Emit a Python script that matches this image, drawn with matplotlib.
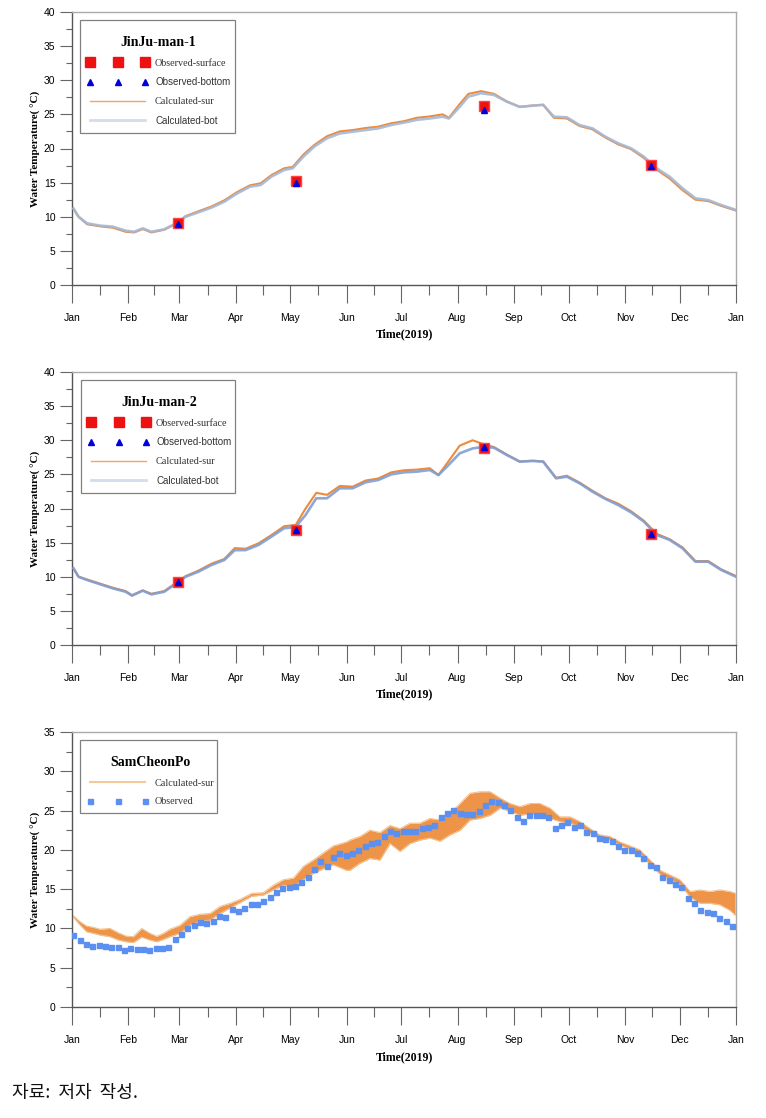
import matplotlib
matplotlib.use("Agg")
import matplotlib.pyplot as plt
import numpy as np
from matplotlib.lines import Line2D
from matplotlib.patches import Rectangle

# month boundaries (day of year) and labels
month_days = [0, 31, 59, 90, 120, 151, 181, 212, 243, 273, 304, 334, 365]
month_labels = ["Jan", "Feb", "Mar", "Apr", "May", "Jun", "Jul", "Aug",
                "Sep", "Oct", "Nov", "Dec", "Jan"]

# ---- JinJu-man-1 ----
days1 = [0.8, 3.6, 8.3, 15.4, 22.4, 29.5, 34.2, 38.9, 43.6, 50.7, 56.6, 62.5, 69.5,
         76.6, 83.7, 90.7, 97.8, 103.7, 109.6, 116.6, 121.3, 127.2, 133.1, 140.2,
         147.2, 154.3, 161.4, 168.4, 175.5, 182.5, 189.6, 196.7, 203.7, 207.2,
         213.1, 217.9, 224.9, 232, 239, 246.1, 253.2, 259, 264.9, 272, 279, 286.1,
         293.2, 300.3, 307.3, 314.4, 321.4, 328.5, 335.6, 342.7, 349.7, 356.8, 365]
bot1 = [11.2, 10.0, 9.04, 8.7, 8.55, 7.96, 7.8, 8.3, 7.8, 8.16, 8.94, 10.0, 10.65,
        11.33, 12.2, 13.4, 14.4, 14.65, 15.87, 16.85, 17.1, 18.8, 20.26, 21.5, 22.2,
        22.46, 22.7, 22.95, 23.44, 23.8, 24.2, 24.4, 24.66, 24.4, 26.1, 27.6, 28.1,
        27.84, 26.86, 26.1, 26.27, 26.4, 24.66, 24.57, 23.44, 22.95, 21.73, 20.76,
        20.03, 18.8, 17.1, 15.87, 14.17, 12.7, 12.45, 11.72, 11.0]
sur1 = [11.2, 10.0, 8.9, 8.6, 8.4, 7.8, 7.7, 8.2, 7.7, 8.1, 8.9, 10.1, 10.8, 11.5,
        12.4, 13.6, 14.6, 14.9, 16.1, 17.1, 17.3, 19.1, 20.5, 21.8, 22.5, 22.7, 23.0,
        23.2, 23.7, 24.0, 24.5, 24.7, 25.0, 24.5, 26.5, 28.0, 28.4, 28.0, 26.9, 26.1,
        26.3, 26.4, 24.5, 24.4, 23.3, 22.8, 21.6, 20.6, 19.9, 18.6, 16.9, 15.6, 13.9,
        12.5, 12.3, 11.6, 10.9]
obs_days1 = [58.5, 123, 226.5, 318.4]
obs_sur1 = [9.1, 15.2, 26.2, 17.6]
obs_bot1 = [8.9, 15.0, 25.7, 17.4]

# ---- JinJu-man-2 ----
days2 = [0.8, 3.6, 8.3, 15.4, 22.4, 29.5, 33.0, 38.9, 43.6, 50.7, 56.6, 62.5, 69.5,
         76.6, 83.7, 89.5, 95.4, 102.5, 109.6, 116.6, 123, 128.4, 134.3, 140.2, 147.2,
         154.3, 161.4, 168.4, 175.5, 182.5, 189.6, 196.7, 201.4, 206.1, 213.1, 220.2,
         226.5, 232, 239, 246.1, 253.2, 259, 266.1, 272, 279, 286.1, 293.2, 300.3,
         307.3, 314.4, 321.4, 328.5, 335.6, 342.7, 349.7, 356.8, 365]
bot2 = [11.24, 10.0, 9.52, 8.9, 8.3, 7.8, 7.23, 7.96, 7.42, 7.8, 8.9, 10.0, 10.74,
        11.72, 12.45, 13.9, 13.9, 14.65, 15.87, 17.1, 17.33, 19.05, 21.5, 21.5, 22.96,
        22.96, 23.84, 24.18, 25.0, 25.3, 25.4, 25.64, 24.9, 26.13, 28.08, 28.8, 29.05,
        28.9, 27.84, 26.86, 26.96, 26.86, 24.42, 24.66, 23.7, 22.46, 21.4, 20.5, 19.44,
        18.07, 16.12, 15.4, 14.17, 12.2, 12.2, 11.0, 10.0]
sur2 = [11.24, 10.0, 9.6, 9.0, 8.4, 7.9, 7.3, 8.0, 7.5, 7.9, 9.0, 10.1, 10.9, 11.9,
        12.6, 14.2, 14.1, 14.9, 16.1, 17.4, 17.6, 20.0, 22.3, 22.0, 23.3, 23.2, 24.1,
        24.4, 25.3, 25.6, 25.7, 25.9, 24.9, 26.6, 29.2, 30.0, 29.4, 29.0, 27.9, 26.9,
        27.0, 26.9, 24.5, 24.8, 23.8, 22.6, 21.5, 20.7, 19.6, 18.2, 16.3, 15.5, 14.3,
        12.3, 12.3, 11.1, 10.1]
obs_days2 = [58.5, 123, 226.5, 318.4]
obs_sur2 = [9.3, 16.85, 28.9, 16.2]
obs_bot2 = [9.2, 16.8, 29.0, 16.2]

# ---- SamCheonPo ----
days3 = [0.8, 4.4, 8.0, 11.7, 15.4, 20.9, 25.5, 30.0, 33.7, 38.3, 42.9, 46.6, 50.2,
         53.9, 59.4, 64.9, 70.4, 75.9, 81.4, 86.9, 92.4, 98.8, 105.2, 110.7, 116.2,
         121.7, 127.2, 132.6, 138.1, 143.6, 150.9, 152.8, 158.3, 163.8, 169.3, 174.8,
         180.3, 185.8, 191.3, 196.8, 202.3, 207.8, 213.3, 218.8, 224.3, 229.8, 235.3,
         240.8, 246.3, 251.8, 257.2, 262.8, 268.2, 273.8, 279.2, 284.8, 290.2, 295.8,
         301.2, 306.8, 312.2, 317.8, 323.2, 328.8, 334.2, 339.8, 345.2, 350.7, 356.2,
         361.7, 364.5]
hi3 = [11.6, 10.86, 10.31, 10.14, 9.9, 10.0, 9.44, 9.0, 8.95, 10.0, 9.37, 9.0, 9.37,
       9.9, 10.4, 11.5, 11.8, 11.9, 12.8, 13.2, 13.7, 14.46, 14.55, 15.5, 16.2, 16.4,
       17.9, 18.7, 19.6, 20.5, 21.0, 21.25, 21.7, 22.5, 22.2, 23.1, 22.7, 23.4, 23.4,
       24.0, 23.8, 24.6, 25.9, 27.2, 27.4, 27.4, 26.6, 25.9, 25.5, 25.9, 25.9, 25.3,
       24.2, 24.2, 23.6, 22.7, 21.9, 21.7, 21.0, 20.5, 20.0, 18.7, 17.4, 16.8, 16.2,
       14.7, 14.9, 14.7, 14.9, 14.7, 14.5]
lo3 = [11.4, 10.44, 9.58, 9.38, 9.16, 8.95, 8.52, 8.3, 8.2, 8.88, 8.52, 8.3, 8.6,
       8.95, 9.38, 10.4, 10.9, 11.07, 11.9, 12.6, 13.3, 14.1, 14.25, 14.9, 15.5, 15.3,
       16.2, 17.0, 17.6, 18.1, 17.4, 17.4, 18.3, 18.9, 18.7, 20.8, 19.8, 20.8, 21.25,
       21.5, 21.1, 21.9, 22.5, 23.8, 24.0, 24.4, 25.3, 24.9, 24.4, 24.6, 24.4, 24.0,
       23.6, 23.4, 22.95, 22.1, 21.5, 21.3, 20.6, 20.1, 19.5, 18.1, 16.9, 16.2, 15.6,
       14.0, 13.2, 13.2, 13.0, 12.3, 11.7]
obs3 = [9.13, 8.49, 7.98, 7.76, 7.93, 7.72, 7.60, 7.60, 7.30, 7.47, 7.43, 7.43, 7.30,
        7.47, 7.47, 7.68, 8.61, 9.29, 10.05, 10.40, 10.78, 10.69, 10.94, 11.62, 11.49,
        12.47, 12.26, 12.60, 13.07, 13.07, 13.45, 14.00, 14.64, 15.10, 15.27, 15.40,
        15.87, 16.6, 17.6, 18.6, 18.0, 19.1, 19.56, 19.4, 19.64, 19.98, 20.45, 20.87,
        20.96, 21.72, 22.40, 22.19, 22.40, 22.40, 22.40, 22.78, 22.95, 23.12, 24.14,
        24.73, 25.03, 24.73, 24.60, 24.52, 24.90, 25.71, 26.22, 26.05, 25.71, 25.03,
        24.22, 23.63, 24.44, 24.48, 24.44, 24.18, 22.82, 23.12, 23.55, 22.95, 23.12,
        22.27, 22.19, 21.55, 21.34, 21.17, 20.49, 19.98, 19.98, 19.56, 18.96, 18.12,
        17.86, 16.59, 16.16, 15.7, 15.23, 13.87, 13.2, 12.39, 12.13, 11.93, 11.3,
        10.99, 10.31]
obs3_start, obs3_step = 0.8, 3.48
obs_days3 = obs3_start + obs3_step * np.arange(len(obs3))

SERIF = "Liberation Serif"
SANS = ["Liberation Sans Narrow", "Liberation Sans", "DejaVu Sans"]
ORANGE = "#ee8a3a"

fig = plt.figure(figsize=(7.66, 11.18), dpi=100)
W, H = 766, 1118


def make_axes(top, bottom):
    return fig.add_axes([72 / W, 1 - bottom / H, 664 / W, (bottom - top) / H])


def style_axes(ax, ymax):
    ax.set_xlim(0, 365)
    ax.set_ylim(0, ymax)
    ax.set_xticks(month_days)
    ax.set_xticklabels(month_labels, family=SANS, fontsize=7.5)
    mids = [(a + b) / 2 for a, b in zip(month_days[:-1], month_days[1:])]
    ax.set_xticks(mids, minor=True)
    ax.set_yticks(np.arange(0, ymax + 0.1, 5))
    ax.set_yticklabels([str(int(v)) for v in np.arange(0, ymax + 0.1, 5)],
                       family=SANS, fontsize=7.5)
    ax.set_yticks(np.arange(2.5, ymax, 5), minor=True)
    ax.tick_params(axis="x", which="major", length=13, width=0.8, color="#666", pad=7)
    ax.tick_params(axis="x", which="minor", length=7, width=0.8, color="#666")
    ax.tick_params(axis="y", which="major", length=9, width=0.8, color="#666", pad=3)
    ax.tick_params(axis="y", which="minor", length=4, width=0.8, color="#666")
    for s in ["left", "bottom"]:
        ax.spines[s].set_color("#555555")
        ax.spines[s].set_linewidth(1.0)
    for s in ["top", "right"]:
        ax.spines[s].set_color("#aaaaaa")
        ax.spines[s].set_linewidth(1.0)
    ax.set_xlabel("Time(2019)", family=SERIF, fontweight="bold", fontsize=8.5)
    ax.xaxis.set_label_coords(0.5, -0.16)
    ax.set_ylabel("Water Temperature( °C)", family=SERIF, fontweight="bold", fontsize=8)
    ax.yaxis.set_label_coords(-0.047, 0.5)


def legend_box(ax, handles, labels, title, box, serif_rows, spacing):
    # box = (left, top, right, bottom) in figure pixels
    left, top, right, bottom = box
    bb = ax.get_position()
    ax_left, ax_top = bb.x0 * W, (1 - bb.y1) * H
    ax_w, ax_h = bb.width * W, bb.height * H
    ax.add_patch(Rectangle(((left - ax_left) / ax_w, 1 - (bottom - ax_top) / ax_h),
                           (right - left) / ax_w, (bottom - top) / ax_h,
                           transform=ax.transAxes, facecolor="white",
                           edgecolor="#808080", lw=0.9, zorder=6))
    leg = ax.legend(handles, labels, title=title, loc="upper left",
                    bbox_to_anchor=((left + 7 - ax_left) / ax_w,
                                    1 - (top + 16 - ax_top) / ax_h),
                    numpoints=3, handlelength=6.3, fontsize=7, frameon=False,
                    borderpad=0, labelspacing=spacing, handletextpad=0.7,
                    borderaxespad=0)
    leg.set_zorder(7)
    leg.get_title().set_family(SERIF)
    leg.get_title().set_fontweight("bold")
    leg.get_title().set_fontsize(10)
    for i, t in enumerate(leg.get_texts()):
        if i in serif_rows:
            t.set_family(SERIF)
            t.set_fontsize(7.3)
        else:
            t.set_family(SANS)
            t.set_fontsize(7)
        t.set_color("#333333")


def station_panel(ax, title, days, sur, bot, od, osur, obot, bot_color, box):
    ax.plot(days, sur, color=ORANGE, lw=1.5, zorder=2)
    ax.plot(days, bot, color=bot_color, lw=1.9, alpha=0.9, zorder=3)
    ax.plot(od, osur, ls="none", marker="s", ms=7, color="#ee1111",
            mec="#ff4444", zorder=4)
    ax.plot(od, obot, ls="none", marker="^", ms=5, color="#0000dd", zorder=5)
    style_axes(ax, 40)
    handles = [
        Line2D([], [], ls="none", marker="s", ms=7, color="#ee1111"),
        Line2D([], [], ls="none", marker="^", ms=5, color="#0000dd"),
        Line2D([], [], color="#f2a565", lw=1.0),
        Line2D([], [], color="#d3deec", lw=2.0),
    ]
    labels = ["Observed-surface", "Observed-bottom", "Calculated-sur", "Calculated-bot"]
    legend_box(ax, handles, labels, title, box, [0, 2], 1.0)


ax1 = make_axes(12, 285)
station_panel(ax1, "JinJu-man-1", days1, sur1, bot1, obs_days1, obs_sur1,
              obs_bot1, "#a5b8d6", (80, 20, 235, 133))

ax2 = make_axes(372, 645)
station_panel(ax2, "JinJu-man-2", days2, sur2, bot2, obs_days2, obs_sur2,
              obs_bot2, "#7f9fd6", (81, 380, 235, 493))

ax3 = make_axes(732, 1007)
ax3.fill_between(days3, lo3, hi3, color="#ee9448", lw=0, zorder=2)
ax3.plot(days3, hi3, color="#f3c394", lw=0.8, zorder=2)
ax3.plot(days3, lo3, color="#f3c394", lw=0.8, zorder=2)
ax3.plot(obs_days3, obs3, ls="none", marker="s", ms=3.6, color="#5b8ff0",
         mec="#5b8ff0", zorder=4)
style_axes(ax3, 35)
handles3 = [Line2D([], [], color="#f5c9a0", lw=1.5),
            Line2D([], [], ls="none", marker="s", ms=3.6, color="#5b8ff0")]
legend_box(ax3, handles3, ["Calculated-sur", "Observed"], "SamCheonPo",
           (80, 740, 217, 813), [0, 1], 1.0)

fig.text(12 / W, 1 - 1093 / H, "자료:  저자  작성.", fontsize=13,
         family=["Noto Sans CJK KR", "DejaVu Sans"], va="center", color="#111111")

fig.savefig("out.png", dpi=100)
